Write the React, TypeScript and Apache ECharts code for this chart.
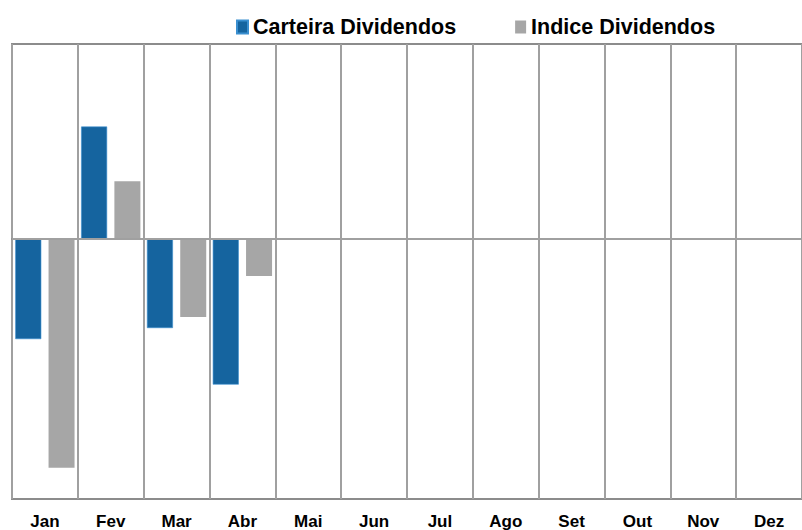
import React, { useEffect, useRef } from "react";
import * as echarts from "echarts";

const months = ["Jan", "Fev", "Mar", "Abr", "Mai", "Jun", "Jul", "Ago", "Set", "Out", "Nov", "Dez"];
const carteira = [-1.54, 1.73, -1.37, -2.24, null, null, null, null, null, null, null, null];
const indice = [-3.52, 0.89, -1.2, -0.57, null, null, null, null, null, null, null, null];
const seriesNames = ["Carteira Dividendos", "Indice Dividendos"];
const yMin = -4;
const yMax = 3;

export default function App() {
  const ref = useRef<HTMLDivElement>(null);
  useEffect(() => {
    if (!ref.current) return;
    const chart = echarts.init(ref.current, null, { renderer: "svg" });
    const font = "'Liberation Sans', Arial, sans-serif";
    chart.setOption({
      animation: false,
      backgroundColor: "#ffffff",
      legend: {
        left: 231,
        top: 11,
        itemWidth: 11,
        itemHeight: 13,
        itemGap: 59,
        icon: "rect",
        textStyle: { fontFamily: font, fontSize: 21.5, fontWeight: "bold", color: "#000" },
        data: seriesNames,
      },
      grid: {
        left: 12,
        top: 44,
        width: 794,
        height: 455,
        show: true,
        borderColor: "#8c8c8c",
        borderWidth: 2,
        containLabel: false,
      },
      xAxis: {
        type: "category",
        data: months,
        boundaryGap: true,
        axisLine: { show: true, lineStyle: { color: "#8c8c8c", width: 2 } },
        axisTick: { show: false },
        axisLabel: {
          interval: 0,
          margin: 14,
          fontFamily: font,
          fontSize: 17,
          fontWeight: "bold",
          color: "#000",
        },
        splitLine: { show: true, interval: 0, lineStyle: { color: "#a0a0a0", width: 2 } },
      },
      yAxis: {
        type: "value",
        min: yMin,
        max: yMax,
        interval: 1,
        axisLine: { show: false },
        axisTick: { show: false },
        axisLabel: { show: false },
        splitLine: { show: false },
      },
      series: [
        {
          name: seriesNames[0],
          type: "bar",
          data: carteira,
          barWidth: 26,
          barGap: "28%",
          itemStyle: { color: "#15649f", borderColor: "#3a8fd0", borderWidth: 0.6 },
          markLine: {
            silent: true,
            symbol: "none",
            label: { show: false },
            lineStyle: { color: "#a0a0a0", width: 2, type: "solid" },
            data: [{ yAxis: 0 }],
          },
        },
        {
          name: seriesNames[1],
          type: "bar",
          data: indice,
          barWidth: 26,
          itemStyle: { color: "#a6a6a6" },
        },
      ],
    });
    return () => chart.dispose();
  }, []);
  return (
    <div
      ref={ref}
      style={{ position: "fixed", left: 0, top: 0, width: 802, height: 530 }}
    />
  );
}
